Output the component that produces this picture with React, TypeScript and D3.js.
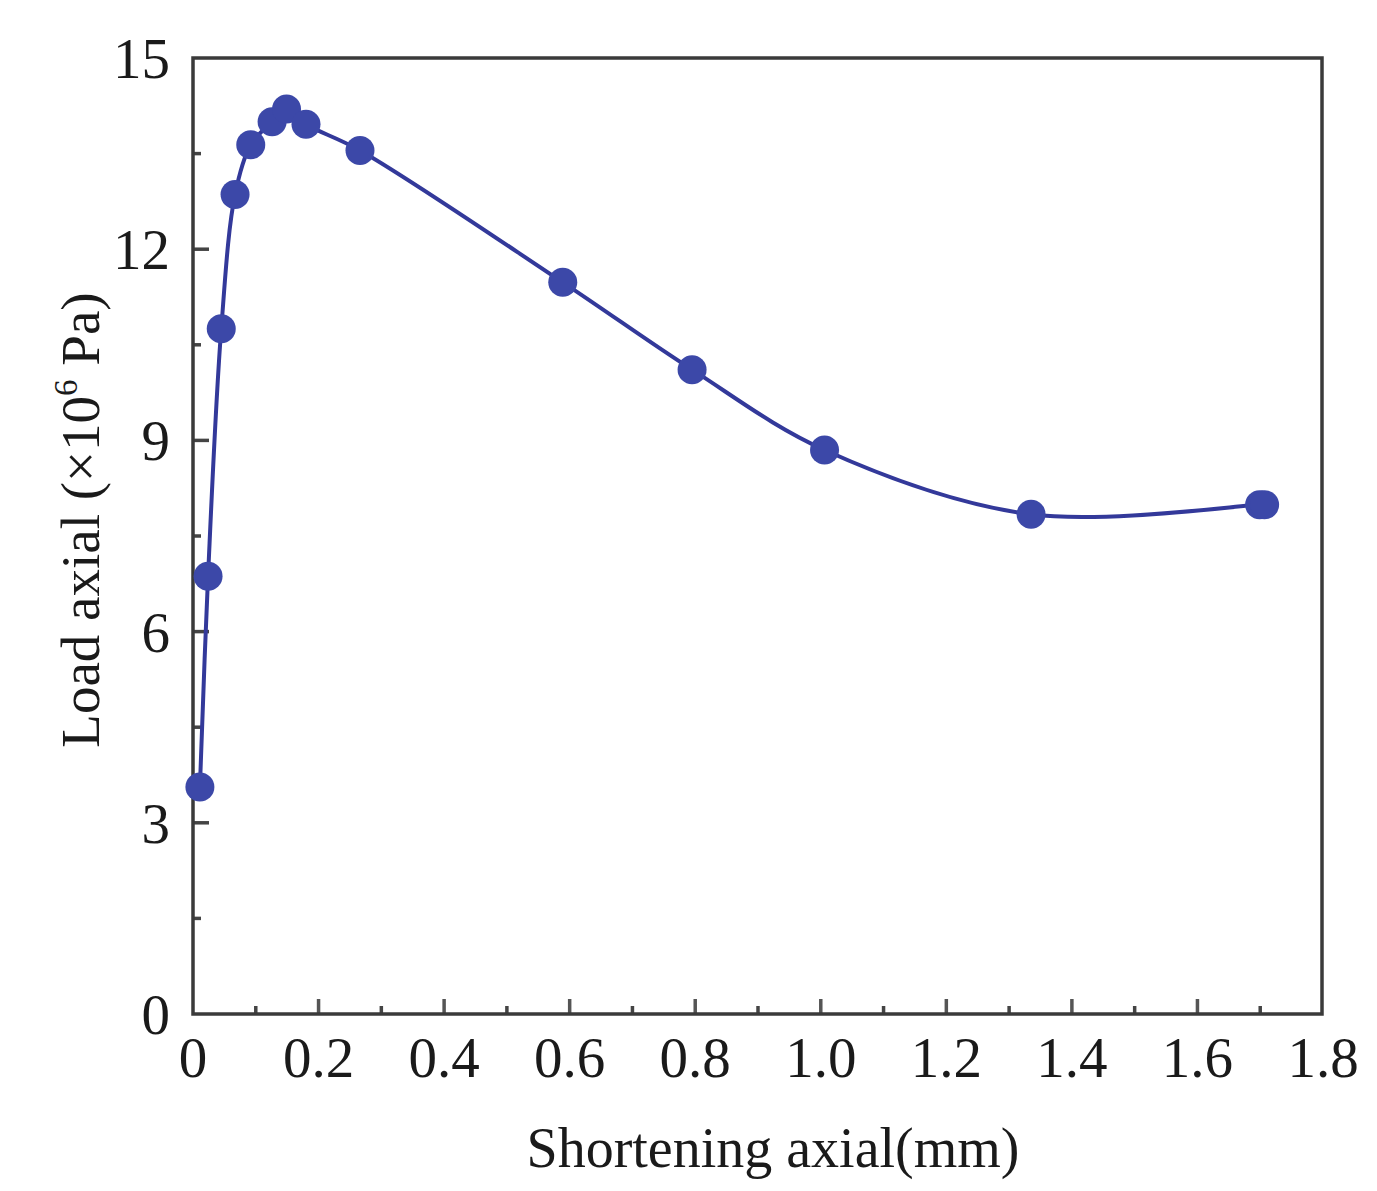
import React from "react";
import * as d3 from "d3";

const shortening = [0.011, 0.024, 0.045, 0.067, 0.092, 0.126, 0.149, 0.180, 0.266, 0.589, 0.795, 1.006, 1.335, 1.699, 1.707];
const load = [3.56, 6.87, 10.75, 12.86, 13.64, 14.0, 14.2, 13.96, 13.55, 11.48, 10.11, 8.85, 7.84, 7.99, 7.99];
const xTicks = [0, 0.2, 0.4, 0.6, 0.8, 1.0, 1.2, 1.4, 1.6, 1.8];
const xTickLabels = ["0", "0.2", "0.4", "0.6", "0.8", "1.0", "1.2", "1.4", "1.6", "1.8"];
const xMinor = [0.1, 0.3, 0.5, 0.7, 0.9, 1.1, 1.3, 1.5, 1.7];
const yTicks = [0, 3, 6, 9, 12, 15];
const yMinor = [1.5, 4.5, 7.5, 10.5, 13.5];

export default function App() {
  const W = 1377, H = 1191;
  const left = 193, right = 1322, top = 58, bottom = 1014;
  const x = d3.scaleLinear().domain([0, 1.8]).range([left, right + 1]);
  const y = d3.scaleLinear().domain([0, 15]).range([bottom, top]);
  const pts = shortening.map((s, i) => [s, load[i]] as [number, number]);
  const line = d3
    .line<[number, number]>()
    .x((d) => x(d[0]))
    .y((d) => y(d[1]))
    .curve(d3.curveCatmullRom.alpha(0.5));
  const font = "'Liberation Serif', 'Times New Roman', serif";
  const axisColor = "#3a3a3a";
  return (
    <svg width={W} height={H} style={{ position: "absolute", left: 0, top: 0, background: "#fff" }}>
      <rect x={0} y={0} width={W} height={H} fill="#fff" />
      {xTicks.slice(1, -1).map((t) => (
        <line key={"xt" + t} x1={x(t)} x2={x(t)} y1={bottom} y2={bottom - 15} stroke="#555" strokeWidth={3.5} />
      ))}
      {xMinor.map((t) => (
        <line key={"xm" + t} x1={x(t)} x2={x(t)} y1={bottom} y2={bottom - 8} stroke="#444" strokeWidth={3.5} />
      ))}
      {yTicks.slice(1, -1).map((t) => (
        <line key={"yt" + t} x1={left} x2={left + 16} y1={y(t)} y2={y(t)} stroke="#444" strokeWidth={3.5} />
      ))}
      {yMinor.map((t) => (
        <line key={"ym" + t} x1={left} x2={left + 8} y1={y(t)} y2={y(t)} stroke="#444" strokeWidth={3.5} />
      ))}
      <rect x={left} y={top} width={right - left} height={bottom - top} fill="none" stroke={axisColor} strokeWidth={3.5} />
      <path d={line(pts) || ""} fill="none" stroke="#33399a" strokeWidth={4} />
      {pts.map((p, i) => (
        <circle key={"p" + i} cx={x(p[0])} cy={y(p[1])} r={14.5} fill="#3c48a8" />
      ))}
      {xTicks.map((t, i) => (
        <text key={"xl" + t} x={x(t)} y={1077} textAnchor="middle" fontFamily={font} fontSize={57} fill="#1a1a1a">
          {xTickLabels[i]}
        </text>
      ))}
      {yTicks.map((t) => (
        <text key={"yl" + t} x={170} y={y(t)} dy="0.35em" textAnchor="end" fontFamily={font} fontSize={57} fill="#1a1a1a">
          {t}
        </text>
      ))}
      <text x={773} y={1167} textAnchor="middle" fontFamily={font} fontSize={56} fill="#1a1a1a">
        Shortening axial(mm)
      </text>
      <text
        transform={`translate(99,520) rotate(-90)`}
        textAnchor="middle"
        fontFamily={font}
        fontSize={55}
        fill="#1a1a1a"
      >
        Load axial (×10
        <tspan fontSize={33} dy={-22}>6</tspan>
        <tspan dy={22}> Pa)</tspan>
      </text>
    </svg>
  );
}
